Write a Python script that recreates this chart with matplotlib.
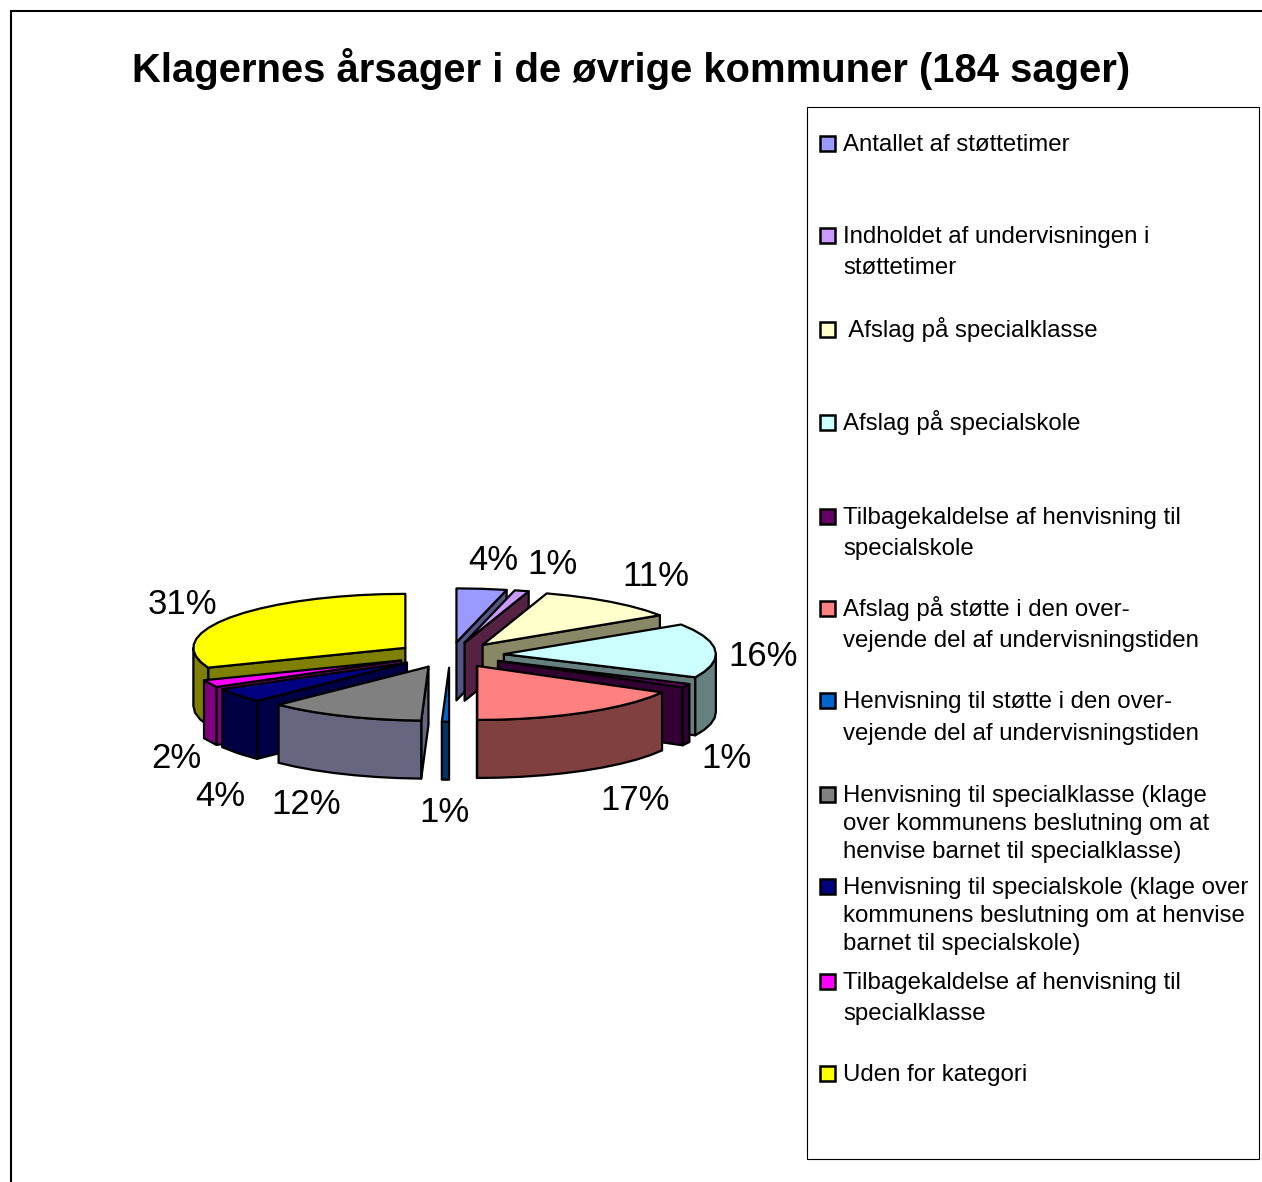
#!/usr/bin/python
# Lagkage i "3D" med adskilte stykker, tegnet som polygoner
import math
import numpy as np
import matplotlib
matplotlib.use('Agg')
import matplotlib.pyplot as plt
from matplotlib.patches import Polygon, Rectangle

plt.rcParams['font.family'] = ['Liberation Sans', 'DejaVu Sans']

titel = 'Klagernes årsager i de øvrige kommuner (184 sager)'

# antal sager pr. kategori, samlet 184
sager = [7, 2, 20, 30, 2, 31, 1, 22, 8, 4, 57]

kategorier = [
    'Antallet af støttetimer',
    'Indholdet af undervisningen i\nstøttetimer',
    ' Afslag på specialklasse',
    'Afslag på specialskole',
    'Tilbagekaldelse af henvisning til\nspecialskole',
    'Afslag på støtte i den over-\nvejende del af undervisningstiden',
    'Henvisning til støtte i den over-\nvejende del af undervisningstiden',
    'Henvisning til specialklasse (klage\nover kommunens beslutning om at\nhenvise barnet til specialklasse)',
    'Henvisning til specialskole (klage over\nkommunens beslutning om at henvise\nbarnet til specialskole)',
    'Tilbagekaldelse af henvisning til\nspecialklasse',
    'Uden for kategori',
]

farver = ['#9999FF', '#CC99FF', '#FFFFCC', '#CCFFFF', '#660066', '#FF8080',
          '#0066CC', '#808080', '#000080', '#FF00FF', '#FFFF00']
sidefarver = ['#555588', '#552244', '#888866', '#668080', '#330033', '#804040',
              '#003366', '#666680', '#000044', '#800080', '#808000']

# placering af procenttekster og tekstlinjer, i pixels
label_pos = [(493, 561), (552, 564), (656, 577), (763, 656), (726, 758), (635, 801),
             (445, 813), (306, 805), (220, 796), (176, 758), (182, 604)]
legend_y = [[143], [235, 266], [329], [422], [516, 547], [608, 639], [700, 732],
            [794, 822, 850], [886, 914, 942], [981, 1012], [1073]]

W, H = 1262, 1182
CX, CY = 450, 655
RX, RY = 212, 54
DYBDE = 58
EX, EY = 54, 12.7

fig = plt.figure(figsize=(W / 100, H / 100), dpi=100)
ax = fig.add_axes([0, 0, 1, 1])
ax.set_xlim(0, W)
ax.set_ylim(H, 0)
ax.axis('off')


def flade(punkter, farve):
    ax.add_patch(Polygon(punkter, closed=True, facecolor=farve, edgecolor='black',
                         linewidth=1.6, joinstyle='round'))


def bue(ax0, ay0, v0, v1):
    n = max(2, int((v1 - v0) / math.radians(6)) + 1)
    v = np.linspace(v0, v1, n)
    return list(zip(ax0 + RX * np.sin(v), ay0 - RY * np.cos(v)))


total = sum(sager)
kant = np.cumsum([0] + sager) / total * 2 * math.pi
midt = (kant[:-1] + kant[1:]) / 2

# bagest foerst
raekkefoelge = sorted(range(len(sager)), key=lambda i: -math.cos(midt[i]))
for i in raekkefoelge:
    v0, v1 = kant[i], kant[i + 1]
    ax0 = CX + EX * math.sin(midt[i])
    ay0 = CY - EY * math.cos(midt[i])
    top = bue(ax0, ay0, v0, v1)

    # synlig snitflade
    if math.sin(v1) > 0:
        p = top[-1]
        flade([(ax0, ay0), p, (p[0], p[1] + DYBDE), (ax0, ay0 + DYBDE)], sidefarver[i])
    if math.sin(v0) < 0:
        p = top[0]
        flade([(ax0, ay0), p, (p[0], p[1] + DYBDE), (ax0, ay0 + DYBDE)], sidefarver[i])

    # ydersiden, kun den forreste halvdel
    s0, s1 = max(v0, math.pi / 2), min(v1, 3 * math.pi / 2)
    if s1 > s0:
        yder = bue(ax0, ay0, s0, s1)
        flade(yder + [(x, y + DYBDE) for x, y in reversed(yder)], sidefarver[i])

    flade([(ax0, ay0)] + top, farver[i])

for i in range(len(sager)):
    ax.text(label_pos[i][0], label_pos[i][1], '{}%'.format(round(sager[i] / total * 100)),
            fontsize=25, ha='center', va='center', color='black')

ax.text(631, 69, titel, fontsize=28.8, fontweight='bold', ha='center', va='center')

# ramme om figuren
ax.plot([11, 11, W], [H, 11, 11], color='black', lw=1.5, solid_joinstyle='miter')

# forklaring
ax.add_patch(Rectangle((807, 107), 452, 1052, facecolor='white', edgecolor='black', lw=0.8))
for i in range(len(kategorier)):
    linjer = kategorier[i].split('\n')
    ax.add_patch(Rectangle((820, legend_y[i][0] - 7), 15, 15, facecolor=farver[i],
                           edgecolor='black', lw=1.8))
    for tekst, y in zip(linjer, legend_y[i]):
        ax.text(843, y + 8, tekst, fontsize=17.3, ha='left', va='baseline', color='black')

plt.savefig('out.png', dpi=100, facecolor='white')
plt.close()
